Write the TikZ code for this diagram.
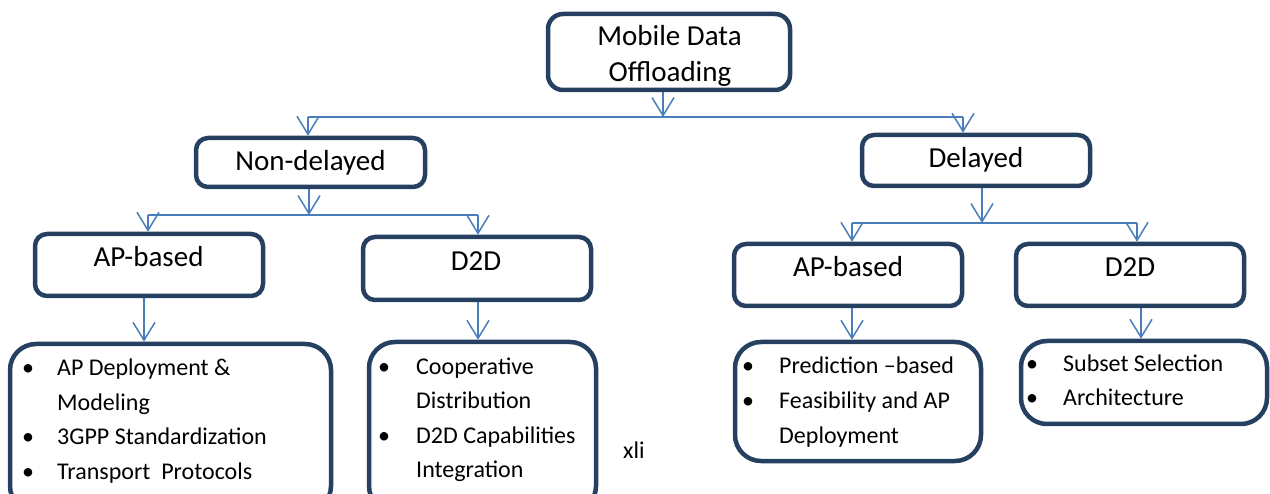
\documentclass[tikz,border=0pt]{standalone}
\usepackage{fontspec}
\setmainfont{Carlito}
\usetikzlibrary{arrows.meta}
\definecolor{navy}{HTML}{254061}
\definecolor{connc}{HTML}{4A7EBB}
\begin{document}
\begin{tikzpicture}[x=1pt,y=-1pt,
  box/.style={draw=navy,line width=4.5pt,rounded corners=12pt,inner sep=0pt},
  listbox/.style={box,rounded corners=26pt},
  hd/.style={font=\fontsize{29}{36}\selectfont,anchor=base,inner sep=0pt},
  li/.style={font=\fontsize{24}{34}\selectfont,anchor=base west,inner sep=0pt},
  bul/.style={font=\fontsize{24}{34}\selectfont,anchor=base,inner sep=0pt},
  link/.style={draw=connc,line width=1.5pt},
  arr/.style={link,-{Straight Barb[length=18pt,width=22pt]}},
]
\useasboundingbox (0,0) rectangle (1270,494);

% heading texts
\node[hd] (rootA) at (669.5,46) {Mobile Data};
\node[hd] (rootB) at (670,82) {Offloading};
\node[hd] (ndT) at (310.5,171) {Non-delayed};
\node[hd] (delT) at (976,168) {Delayed};
\node[hd] (aplT) at (148.5,267) {AP-based};
\node[hd] (ddlT) at (476,271) {D2D};
\node[hd] (aprT) at (848,277) {AP-based};
\node[hd] (ddrT) at (1130,277) {D2D};

% boxes
\node[box,rounded corners=15pt,minimum width=242pt,minimum height=76pt] (root) at (669,52) {};
\node[box,minimum width=229pt,minimum height=49pt] (nd) at (310.5,162.5) {};
\node[box,minimum width=228pt,minimum height=51pt] (del) at (976,160.5) {};
\node[box,minimum width=228pt,minimum height=62pt] (apl) at (149,265) {};
\node[box,minimum width=228pt,minimum height=63pt] (ddl) at (477,268.5) {};
\node[box,minimum width=228pt,minimum height=62pt] (apr) at (848,275) {};
\node[box,minimum width=228pt,minimum height=62pt] (ddr) at (1130,275) {};
\node[listbox,minimum width=321pt,minimum height=168pt] (l1) at (170.5,428) {};
\node[listbox,minimum width=227pt,minimum height=170pt] (l2) at (482.5,427) {};
\node[listbox,minimum width=246pt,minimum height=119pt] (l3) at (858,401.5) {};
\node[listbox,minimum width=246pt,minimum height=83pt] (l4) at (1144,382.5) {};

% list 1
\node[bul] (l1b1) at (28,376) {\textbullet};
\node[li] (l1t1) at (57,376) {AP Deployment \&};
\node[li] (l1t2) at (57,411) {Modeling};
\node[bul] (l1b3) at (28,445) {\textbullet};
\node[li] (l1t3) at (57,445) {3GPP Standardization};
\node[bul] (l1b4) at (28,479) {\textbullet};
\node[li] (l1t4) at (57,479) {Transport\ \ Protocols};
% list 2
\node[bul] (l2b1) at (384,375) {\textbullet};
\node[li] (l2t1) at (416,375) {Cooperative};
\node[li] (l2t2) at (416,409) {Distribution};
\node[bul] (l2b3) at (384,443) {\textbullet};
\node[li] (l2t3) at (416,443) {D2D Capabilities};
\node[li] (l2t4) at (416,477) {Integration};
% list 3
\node[bul] (l3b1) at (748,374) {\textbullet};
\node[li] (l3t1) at (779,374) {Prediction --based};
\node[bul] (l3b2) at (748,409) {\textbullet};
\node[li] (l3t2) at (779,409) {Feasibility and AP};
\node[li] (l3t3) at (779,443) {Deployment};
% list 4
\node[bul] (l4b1) at (1032,372) {\textbullet};
\node[li] (l4t1) at (1063,372) {Subset Selection};
\node[bul] (l4b2) at (1032,406) {\textbullet};
\node[li] (l4t2) at (1063,406) {Architecture};

\node[li] (pg) at (623,458) {xli};

% connectors level 1
\coordinate (b1) at (663,117);
\coordinate (b1l) at (308,117);
\coordinate (b1r) at (963,117);
\draw[arr] (b1 |- root.south) -- (b1);
\draw[link] (b1l) -- (b1r);
\draw[arr] (b1l) -- (b1l |- nd.north);
\draw[arr] (b1r) -- (b1r |- del.north);

% connectors under Non-delayed
\coordinate (b2) at (309,215);
\coordinate (b2l) at (148,215);
\coordinate (b2r) at (478,215);
\draw[arr] (b2 |- nd.south) -- (b2);
\draw[link] (b2l) -- (b2r);
\draw[arr] (b2l) -- (b2l |- apl.north);
\draw[arr] (b2r) -- (b2r |- ddl.north);

% connectors under Delayed
\coordinate (b3) at (982,223);
\coordinate (b3l) at (852,223);
\coordinate (b3r) at (1137,223);
\draw[arr] (b3 |- del.south) -- (b3);
\draw[link] (b3l) -- (b3r);
\draw[arr] (b3l) -- (b3l |- apr.north);
\draw[arr] (b3r) -- (b3r |- ddr.north);

% connectors to lists
\coordinate (c1) at (144,0);
\coordinate (c2) at (478,0);
\coordinate (c3) at (852,0);
\coordinate (c4) at (1141,0);
\draw[arr] (c1 |- apl.south) -- (c1 |- l1.north);
\draw[arr] (c2 |- ddl.south) -- (c2 |- l2.north);
\draw[arr] (c3 |- apr.south) -- (c3 |- l3.north);
\draw[arr] (c4 |- ddr.south) -- (c4 |- l4.north);
\end{tikzpicture}
\end{document}
